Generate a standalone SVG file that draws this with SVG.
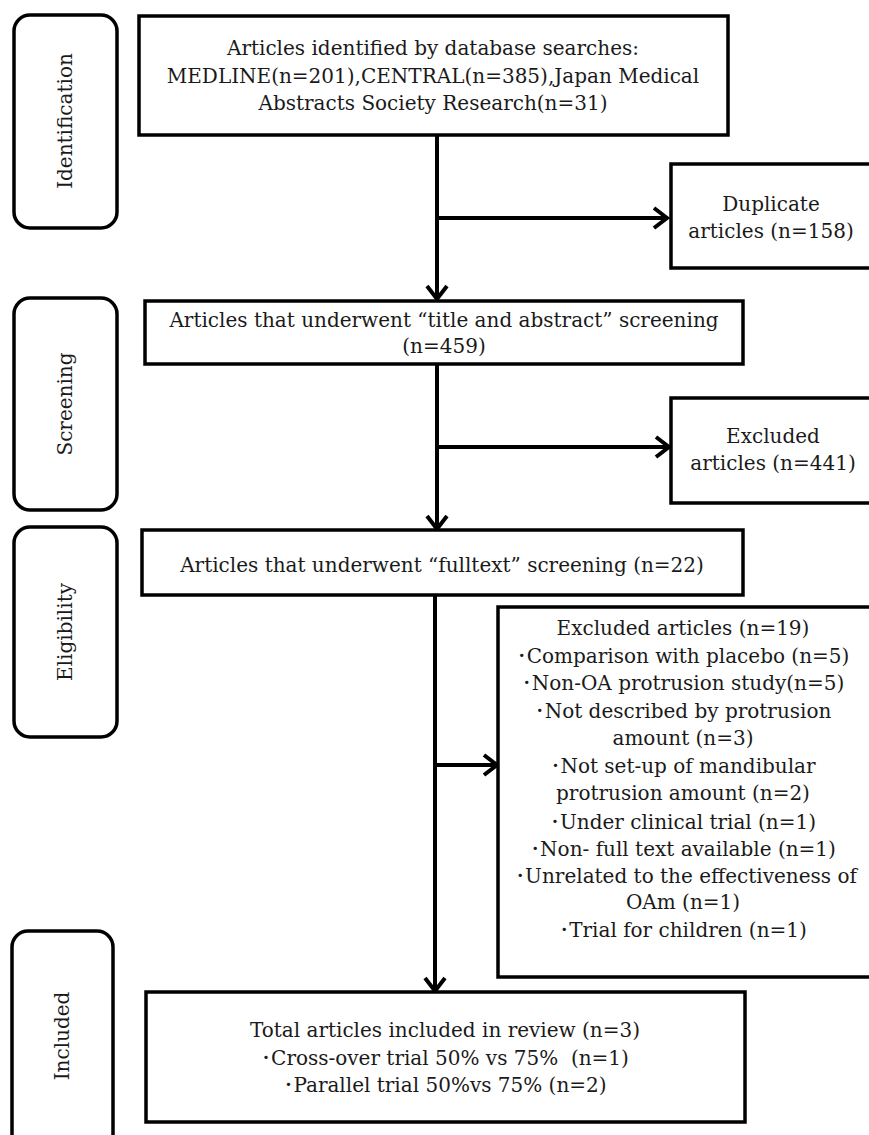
<svg xmlns="http://www.w3.org/2000/svg" width="869" height="1135" viewBox="0 0 869 1135">
<style>
  .stage { fill: #fff; stroke: #000; stroke-width: 3.5; }
  .box { fill: #fff; stroke: #000; stroke-width: 3.5; }
  .t { font-family: "DejaVu Serif", "Liberation Serif", "Noto Sans CJK JP", serif; font-size: 20px; fill: #1a1a1a; text-anchor: middle; white-space: pre; }
  .conn { fill: none; stroke: #000; stroke-width: 4; }
</style>
<defs>
  <marker id="arr" markerUnits="userSpaceOnUse" markerWidth="20" markerHeight="24" viewBox="0 0 20 24" refX="16" refY="12" orient="auto">
    <path d="M3,2 L16,12 L3,22" fill="none" stroke="#000" stroke-width="4"/>
  </marker>
</defs>
<rect width="869" height="1135" fill="#fff"/>

<g id="stage-identification">
  <rect class="stage" x="14" y="15" width="103" height="213" rx="16"/>
  <text class="t" transform="translate(72,121) rotate(-90)">Identification</text>
</g>
<g id="stage-screening">
  <rect class="stage" x="14" y="298" width="103" height="212" rx="16"/>
  <text class="t" transform="translate(72,404) rotate(-90)">Screening</text>
</g>
<g id="stage-eligibility">
  <rect class="stage" x="14" y="527" width="103" height="210" rx="16"/>
  <text class="t" transform="translate(72,632) rotate(-90)">Eligibility</text>
</g>
<g id="stage-included">
  <rect class="stage" x="12" y="931" width="101" height="220" rx="16"/>
  <text class="t" transform="translate(69,1036) rotate(-90)">Included</text>
</g>

<g id="connectors">
  <line class="conn" x1="437" y1="135" x2="437" y2="299" marker-end="url(#arr)"/>
  <line class="conn" x1="437" y1="218" x2="667" y2="218" marker-end="url(#arr)"/>
  <line class="conn" x1="437" y1="364" x2="437" y2="529" marker-end="url(#arr)"/>
  <line class="conn" x1="437" y1="447" x2="669" y2="447" marker-end="url(#arr)"/>
  <line class="conn" x1="435" y1="595" x2="435" y2="991" marker-end="url(#arr)"/>
  <line class="conn" x1="435" y1="765" x2="497" y2="765" marker-end="url(#arr)"/>
</g>

<g id="node-identified">
  <rect class="box" x="139" y="16" width="589" height="119"/>
  <text class="t" x="433" y="55">Articles identified by database searches:</text>
  <text class="t" x="433" y="83">MEDLINE(n=201),CENTRAL(n=385),Japan Medical</text>
  <text class="t" x="433" y="110">Abstracts Society Research(n=31)</text>
</g>
<g id="node-duplicate">
  <rect class="box" x="671" y="164" width="210" height="104"/>
  <text class="t" x="771" y="211">Duplicate</text>
  <text class="t" x="771" y="238">articles (n=158)</text>
</g>
<g id="node-screening">
  <rect class="box" x="145" y="301" width="598" height="63"/>
  <text class="t" x="444" y="327">Articles that underwent “title and abstract” screening</text>
  <text class="t" x="444" y="353">(n=459)</text>
</g>
<g id="node-excluded-441">
  <rect class="box" x="671" y="398" width="210" height="105"/>
  <text class="t" x="773" y="443">Excluded</text>
  <text class="t" x="773" y="470">articles (n=441)</text>
</g>
<g id="node-fulltext">
  <rect class="box" x="142" y="530" width="601" height="65"/>
  <text class="t" x="442" y="572">Articles that underwent “fulltext” screening (n=22)</text>
</g>
<g id="node-excluded-19">
  <rect class="box" x="498" y="607" width="383" height="370"/>
  <text class="t" x="683" y="635">Excluded articles (n=19)</text>
  <text class="t" x="683" y="663">･Comparison with placebo (n=5)</text>
  <text class="t" x="683" y="690">･Non-OA protrusion study(n=5)</text>
  <text class="t" x="683" y="718">･Not described by protrusion</text>
  <text class="t" x="683" y="745">amount (n=3)</text>
  <text class="t" x="683" y="773">･Not set-up of mandibular</text>
  <text class="t" x="683" y="800">protrusion amount (n=2)</text>
  <text class="t" x="683" y="829">･Under clinical trial (n=1)</text>
  <text class="t" x="683" y="856">･Non- full text available (n=1)</text>
  <text class="t" x="686" y="883">･Unrelated to the effectiveness of</text>
  <text class="t" x="683" y="909">OAm (n=1)</text>
  <text class="t" x="683" y="937">･Trial for children (n=1)</text>
</g>
<g id="node-included">
  <rect class="box" x="146" y="992" width="599" height="130"/>
  <text class="t" x="445" y="1037">Total articles included in review (n=3)</text>
  <text class="t" x="445" y="1065">･Cross-over trial 50% vs 75%  (n=1)</text>
  <text class="t" x="445" y="1092">･Parallel trial 50%vs 75% (n=2)</text>
</g>
</svg>
